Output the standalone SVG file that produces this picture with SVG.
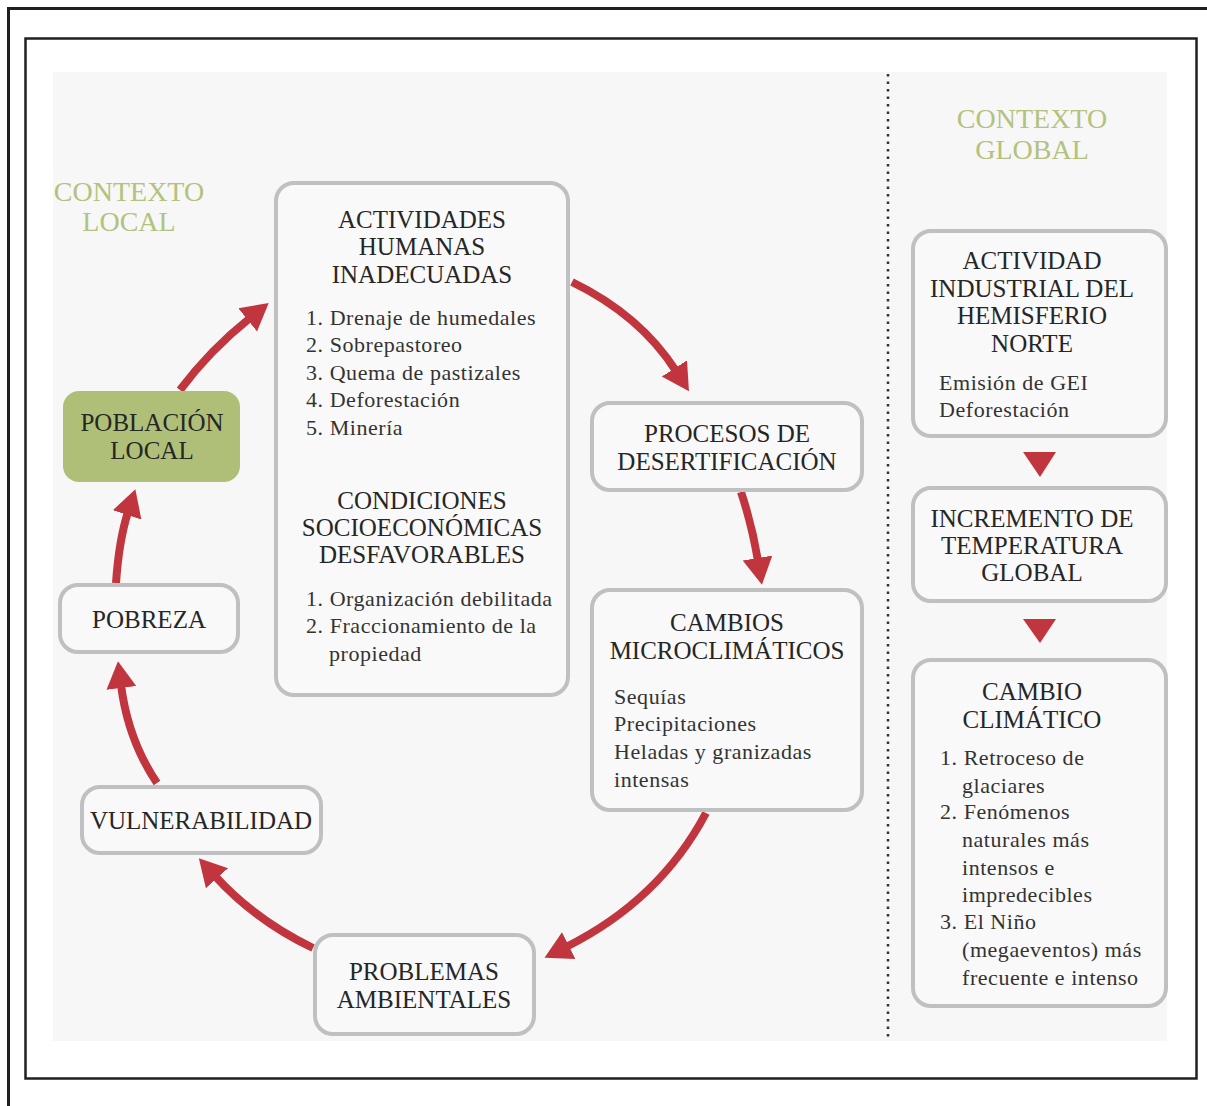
<svg xmlns="http://www.w3.org/2000/svg" width="1207" height="1106" viewBox="0 0 1207 1106">
<defs>
<style>
.box{fill:#f9f9f9;stroke:#bfc0c2;stroke-width:4}
.t{font-family:"Liberation Serif",serif;font-size:25px;fill:#262626;text-anchor:middle}
.b{font-family:"Liberation Serif",serif;font-size:22px;letter-spacing:0.55px;fill:#333}
.ctx{font-family:"Liberation Serif",serif;font-size:28px;fill:#b3c27c;text-anchor:middle}
.arr{fill:none;stroke:#c1363e;stroke-width:8}
</style>
<marker id="ah" markerUnits="userSpaceOnUse" markerWidth="32" markerHeight="34" refX="3" refY="16" orient="auto">
<path d="M0,1 L27,16 L0,31 z" fill="#c1363e"/>
</marker>
</defs>
<rect width="1207" height="1106" fill="#fff"/>
<path d="M8.5,1106 V8.5 H1207" fill="none" stroke="#231f20" stroke-width="3"/>
<rect x="25.5" y="38.5" width="1171" height="1040" fill="none" stroke="#231f20" stroke-width="2.5"/>
<rect x="53" y="72" width="1114" height="969" fill="#f7f7f7"/>
<line x1="888" y1="74" x2="888" y2="1040" stroke="#333" stroke-width="2.5" stroke-dasharray="2.5,5"/>

<text class="ctx" x="129" y="201">CONTEXTO</text>
<text class="ctx" x="129" y="231">LOCAL</text>
<text class="ctx" x="1032" y="128">CONTEXTO</text>
<text class="ctx" x="1032" y="159">GLOBAL</text>

<g id="connectors">
<path class="arr" d="M180,390 Q210,350 250,318" marker-end="url(#ah)"/>
<path class="arr" d="M572,282 Q640,315 676,371" marker-end="url(#ah)"/>
<path class="arr" d="M741,492 Q752,525 758,561" marker-end="url(#ah)"/>
<path class="arr" d="M706,813 Q660,900 566,947" marker-end="url(#ah)"/>
<path class="arr" d="M313,948 Q255,920 215,876" marker-end="url(#ah)"/>
<path class="arr" d="M157,783 Q128,740 121,685" marker-end="url(#ah)"/>
<path class="arr" d="M116,583 Q119,540 128,512" marker-end="url(#ah)"/>
<polygon points="1023,452 1056,452 1040,477" fill="#c1363e"/>
<polygon points="1023,619 1056,619 1040,643" fill="#c1363e"/>
</g>

<g id="actividades">
<rect class="box" x="276" y="183" width="292" height="512" rx="18"/>
<text class="t" x="422" y="228">ACTIVIDADES</text>
<text class="t" x="422" y="255">HUMANAS</text>
<text class="t" x="422" y="283">INADECUADAS</text>
<text class="b" x="306" y="325">1. Drenaje de humedales</text>
<text class="b" x="306" y="352">2. Sobrepastoreo</text>
<text class="b" x="306" y="380">3. Quema de pastizales</text>
<text class="b" x="306" y="407">4. Deforestación</text>
<text class="b" x="306" y="435">5. Minería</text>
<text class="t" x="422" y="509">CONDICIONES</text>
<text class="t" x="422" y="536">SOCIOECONÓMICAS</text>
<text class="t" x="422" y="563">DESFAVORABLES</text>
<text class="b" x="306" y="606">1. Organización debilitada</text>
<text class="b" x="306" y="633">2. Fraccionamiento de la</text>
<text class="b" x="329" y="661">propiedad</text>
</g>

<g id="procesos">
<rect class="box" x="592" y="403" width="270" height="87" rx="18"/>
<text class="t" x="727" y="442">PROCESOS DE</text>
<text class="t" x="727" y="470">DESERTIFICACIÓN</text>
</g>

<g id="cambios">
<rect class="box" x="592" y="590" width="270" height="220" rx="18"/>
<text class="t" x="727" y="631">CAMBIOS</text>
<text class="t" x="727" y="659">MICROCLIMÁTICOS</text>
<text class="b" x="614" y="704">Sequías</text>
<text class="b" x="614" y="731">Precipitaciones</text>
<text class="b" x="614" y="759">Heladas y granizadas</text>
<text class="b" x="614" y="787">intensas</text>
</g>

<g id="problemas">
<rect class="box" x="315" y="935" width="219" height="99" rx="18"/>
<text class="t" x="424" y="980">PROBLEMAS</text>
<text class="t" x="424" y="1008">AMBIENTALES</text>
</g>

<g id="vulnerabilidad">
<rect class="box" x="82" y="787" width="239" height="66" rx="18"/>
<text class="t" x="201" y="829">VULNERABILIDAD</text>
</g>

<g id="pobreza">
<rect class="box" x="60" y="585" width="178" height="67" rx="18"/>
<text class="t" x="149" y="628">POBREZA</text>
</g>

<g id="poblacion">
<rect x="63" y="391" width="177" height="91" rx="16" fill="#afbf78"/>
<text class="t" x="152" y="431">POBLACIÓN</text>
<text class="t" x="152" y="459">LOCAL</text>
</g>

<g id="actividad-industrial">
<rect class="box" x="913" y="231" width="253" height="205" rx="18"/>
<text class="t" x="1032" y="269">ACTIVIDAD</text>
<text class="t" x="1032" y="297">INDUSTRIAL DEL</text>
<text class="t" x="1032" y="324">HEMISFERIO</text>
<text class="t" x="1032" y="352">NORTE</text>
<text class="b" x="939" y="390">Emisión de GEI</text>
<text class="b" x="939" y="417">Deforestación</text>
</g>

<g id="incremento">
<rect class="box" x="913" y="488" width="253" height="113" rx="18"/>
<text class="t" x="1032" y="527">INCREMENTO DE</text>
<text class="t" x="1032" y="554">TEMPERATURA</text>
<text class="t" x="1032" y="581">GLOBAL</text>
</g>

<g id="cambio-climatico">
<rect class="box" x="913" y="660" width="253" height="346" rx="18"/>
<text class="t" x="1032" y="700">CAMBIO</text>
<text class="t" x="1032" y="728">CLIMÁTICO</text>
<text class="b" x="940" y="765">1. Retroceso de</text>
<text class="b" x="962" y="793">glaciares</text>
<text class="b" x="940" y="819">2. Fenómenos</text>
<text class="b" x="962" y="847">naturales más</text>
<text class="b" x="962" y="875">intensos e</text>
<text class="b" x="962" y="902">impredecibles</text>
<text class="b" x="940" y="929">3. El Niño</text>
<text class="b" x="962" y="957">(megaeventos) más</text>
<text class="b" x="962" y="985">frecuente e intenso</text>
</g>
</svg>
